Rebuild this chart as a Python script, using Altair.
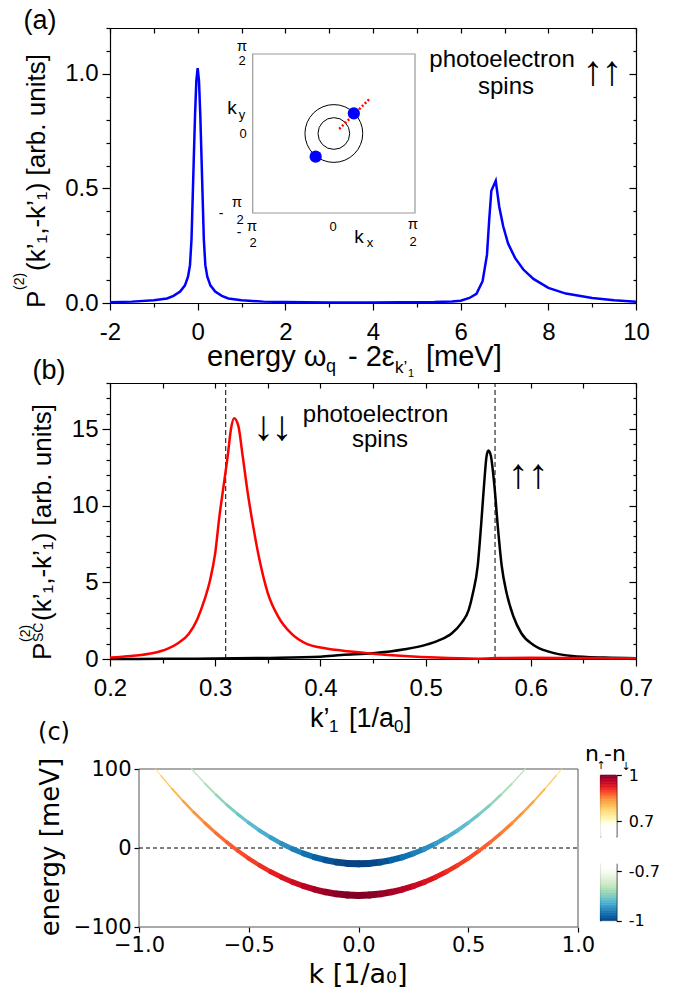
import altair as alt
import pandas as pd

W, H = 677, 992
HALF_PI = 1.5707963267948966
SANS = "Liberation Sans"
DV = "DejaVu Sans"

# ---------------- panel (a): photoelectron pair spectrum ----------------
a_energy = [-2.0, -1.5, -1.0, -0.7, -0.55, -0.4, -0.29, -0.22, -0.175, -0.14,
            -0.115, -0.09, -0.06, -0.03, 0.0, 0.03, 0.06, 0.09, 0.115, 0.14,
            0.175, 0.22, 0.29, 0.4, 0.55, 0.7, 1.0, 1.5, 2.0, 3.0, 4.0, 4.6,
            5.4, 5.8, 6.0, 6.2, 6.36, 6.5, 6.6, 6.65, 6.7, 6.8, 6.88, 6.97,
            7.08, 7.24, 7.43, 7.66, 8.0, 8.4, 9.0, 9.5, 10.0]
a_power = [0.003, 0.006, 0.012, 0.02, 0.031, 0.05, 0.077, 0.115, 0.165, 0.28,
           0.45, 0.62, 0.82, 0.97, 1.025, 0.97, 0.82, 0.62, 0.45, 0.28,
           0.165, 0.115, 0.077, 0.05, 0.031, 0.02, 0.012, 0.006, 0.004, 0.002, 0.002, 0.003,
           0.004, 0.007, 0.01, 0.022, 0.04, 0.095, 0.21, 0.36, 0.49, 0.533, 0.42, 0.335,
           0.26, 0.197, 0.146, 0.105, 0.066, 0.041, 0.022, 0.012, 0.005]

# inset (k-space sketch)
inset_ring_r = [0.31, 0.565]
inset_dot_kx = [0.387, -0.352]
inset_dot_ky = [0.399, -0.458]
inset_line_kx = [0.104, 0.685]
inset_line_ky = [0.089, 0.677]

# ---------------- panel (b) ----------------
b_k_red = [0.20, 0.22, 0.24, 0.255, 0.265, 0.275, 0.283, 0.29, 0.295, 0.30,
           0.304, 0.308, 0.312, 0.315, 0.318, 0.322, 0.326, 0.331, 0.336, 0.342,
           0.35, 0.36, 0.372, 0.388, 0.40, 0.42, 0.45, 0.48, 0.51, 0.55,
           0.57, 0.60, 0.65, 0.70]
b_p_red = [0.09, 0.2, 0.37, 0.68, 1.05, 1.65, 2.6, 3.9, 5.1, 6.9,
           9.3, 11.3, 13.3, 15.0, 15.7, 15.2, 13.3, 10.8, 8.7, 6.5,
           4.3, 2.75, 1.68, 0.95, 0.75, 0.55, 0.35, 0.2, 0.09, 0.02,
           0.06, 0.08, 0.06, 0.05]
b_k_black = [0.20, 0.25, 0.30, 0.35, 0.40, 0.42, 0.45, 0.48, 0.50, 0.512,
             0.525, 0.534, 0.541, 0.545, 0.5495, 0.5527, 0.5555, 0.558, 0.5597, 0.562,
             0.5654, 0.5686, 0.5724, 0.577, 0.5835, 0.591, 0.6025, 0.617, 0.639, 0.67, 0.70]
b_p_black = [0.0, 0.01, 0.03, 0.07, 0.15, 0.26, 0.37, 0.63, 0.92, 1.2,
             1.68, 2.34, 3.2, 4.3, 6.05, 8.67, 11.3, 13.25, 13.6, 13.25,
             11.3, 8.67, 6.05, 4.3, 2.77, 1.68, 0.92, 0.48, 0.2, 0.09, 0.05]
b_dash_k = [0.31, 0.566]

# ---------------- panel (c): spin-split bands ----------------
low_k = [-0.925, -0.9, -0.85, -0.8, -0.75, -0.7, -0.65, -0.6, -0.55, -0.5, -0.45, -0.4, -0.35,
         -0.3, -0.25, -0.2, -0.15, -0.1, -0.05, 0.0, 0.05, 0.1, 0.15, 0.2, 0.25, 0.3, 0.35,
         0.4, 0.45, 0.5, 0.55, 0.6, 0.65, 0.7, 0.75, 0.8, 0.85, 0.9, 0.925]
low_E = [100.0, 91.5, 75.1, 59.7, 45.2, 31.6, 19.0, 7.3, -3.4, -13.3, -22.1, -30.1, -37.1,
         -43.2, -48.3, -52.5, -55.8, -58.1, -59.5, -60.0, -59.5, -58.1, -55.8, -52.5, -48.3, -43.2, -37.1,
         -30.1, -22.1, -13.3, -3.4, 7.3, 19.0, 31.6, 45.2, 59.7, 75.1, 91.5, 100.0]
low_n = [0.77, 0.78, 0.8, 0.82, 0.84, 0.85, 0.865, 0.875, 0.885, 0.895, 0.905, 0.915, 0.93,
         0.94, 0.955, 0.97, 0.98, 0.99, 0.998, 1.0, 0.998, 0.99, 0.98, 0.97, 0.955, 0.94, 0.93,
         0.915, 0.905, 0.895, 0.885, 0.875, 0.865, 0.85, 0.84, 0.82, 0.8, 0.78, 0.77]
up_k = [-0.76, -0.7, -0.65, -0.6, -0.55, -0.5, -0.45, -0.4, -0.35, -0.3, -0.25, -0.2, -0.15,
        -0.1, -0.05, 0.0, 0.05, 0.1, 0.15, 0.2, 0.25, 0.3, 0.35, 0.4, 0.45, 0.5, 0.55, 0.6,
        0.65, 0.7, 0.76]
up_E = [99.9, 81.7, 67.7, 54.7, 42.8, 31.9, 22.0, 13.2, 5.4, -1.3, -7.0, -11.7, -15.3,
        -17.9, -19.5, -20.0, -19.5, -17.9, -15.3, -11.7, -7.0, -1.3, 5.4, 13.2, 22.0, 31.9, 42.8, 54.7,
        67.7, 81.7, 99.9]
up_n = [-0.78, -0.8, -0.82, -0.84, -0.855, -0.87, -0.885, -0.9, -0.915, -0.93, -0.945, -0.96, -0.975,
        -0.99, -0.997, -1.0, -0.997, -0.99, -0.975, -0.96, -0.945, -0.93, -0.915, -0.9, -0.885, -0.87,
        -0.855, -0.84, -0.82, -0.8, -0.78]
cb_up_edges = [0.60, 0.61, 0.62, 0.63, 0.64, 0.65, 0.66, 0.67, 0.68, 0.69, 0.70, 0.71, 0.72, 0.73,
               0.74, 0.75, 0.76, 0.77, 0.78, 0.79, 0.80, 0.81, 0.82, 0.83, 0.84, 0.85, 0.86, 0.87,
               0.88, 0.89, 0.90, 0.91, 0.92, 0.93, 0.94, 0.95, 0.96, 0.97, 0.98, 0.99, 1.00]
cb_lo_edges = [-1.00, -0.99, -0.98, -0.97, -0.96, -0.95, -0.94, -0.93, -0.92, -0.91, -0.90, -0.89,
               -0.88, -0.87, -0.86, -0.85, -0.84, -0.83, -0.82, -0.81, -0.80, -0.79, -0.78, -0.77,
               -0.76, -0.75, -0.74, -0.73, -0.72, -0.71, -0.70, -0.69, -0.68, -0.67, -0.66, -0.65]

# ---------------- tick values ----------------
a_x_major = [-2, 0, 2, 4, 6, 8, 10]
a_x_minor = [-1, 1, 3, 5, 7, 9]
a_x_all = [-2, -1, 0, 1, 2, 3, 4, 5, 6, 7, 8, 9, 10]
a_y_major = [0.0, 0.5, 1.0]
a_y_minor = [0.1, 0.2, 0.3, 0.4, 0.6, 0.7, 0.8, 0.9, 1.1, 1.2]
b_x_major = [0.2, 0.3, 0.4, 0.5, 0.6, 0.7]
b_x_minor = [0.25, 0.35, 0.45, 0.55, 0.65]
b_x_all = [0.2, 0.25, 0.3, 0.35, 0.4, 0.45, 0.5, 0.55, 0.6, 0.65, 0.7]
b_y_major = [0, 5, 10, 15]
b_y_minor = [1, 2, 3, 4, 6, 7, 8, 9, 11, 12, 13, 14, 16, 17, 18]
c_x_ticks = [-1.0, -0.5, 0.0, 0.5, 1.0]
c_y_ticks = [-100, 0, 100]
cb_up_ticks = [0.7, 1.0]
cb_lo_ticks = [-1.0, -0.7]

CDOM = [-1.0, -0.9625, -0.925, -0.8875, -0.85, -0.8125, -0.775, -0.7375, -0.7, -0.68,
        0.68, 0.7, 0.7375, 0.775, 0.8125, 0.85, 0.8875, 0.925, 0.9625, 1.0]
CRANGE = ["#084081", "#0868ac", "#2b8cbe", "#4eb3d3", "#7bccc4", "#a8ddb5", "#ccebc5", "#e0f3db",
          "#f7fcf0", "#ffffff", "#ffffff", "#ffffcc", "#ffeda0", "#fed976", "#feb24c", "#fd8d3c",
          "#fc4e2a", "#e31a1c", "#bd0026", "#800026"]


def cscale():
    return alt.Scale(domain=CDOM, range=CRANGE, interpolate="rgb")


def axis(orient, pos, values, tick, labels=False, domain=False, expr=None, fmt=None,
         font=SANS, size=24, pad=4, ticks=True):
    if orient == "bottom":
        off = pos - H
    elif orient in ("top", "left"):
        off = -pos
    else:
        off = pos - W
    kw = dict(orient=orient, offset=off, values=values, ticks=ticks, tickSize=tick,
              tickColor="black", tickWidth=1.2, labels=labels, domain=domain,
              domainColor="black", domainWidth=1.2, grid=False, title=None)
    if labels:
        kw.update(labelFont=font, labelFontSize=size, labelColor="black", labelPadding=pad,
                  labelFlush=False, labelOverlap=False)
        if expr:
            kw["labelExpr"] = expr
        if fmt:
            kw["format"] = fmt
    return alt.Axis(**kw)


def guide(xs, ys, xdom, ydom, xaxis=None, yaxis=None):
    df = pd.DataFrame({"gx": xdom, "gy": ydom})
    return alt.Chart(df).mark_point(opacity=0).encode(
        x=alt.X("gx:Q", scale=xs, axis=xaxis),
        y=alt.Y("gy:Q", scale=ys, axis=yaxis))


def text(s, x, y, size, font=SANS, align="center", baseline="middle", angle=0):
    return alt.Chart(pd.DataFrame({"t": [s]})).mark_text(
        align=align, baseline=baseline, fontSize=size, font=font, angle=angle, color="black"
    ).encode(x=alt.value(x), y=alt.value(y), text="t:N")


layers = []

# ======== panel (a) ========
xa = alt.Scale(domain=[-2, 10], range=[110, 636], nice=False, zero=False)
ya = alt.Scale(domain=[0, 1.2], range=[303, 28], nice=False, zero=False)
layers += [
    guide(xa, ya, [-2, 10], [0, 1.2],
          axis("bottom", 303, a_x_minor, 4), axis("left", 110, a_y_minor, 4)),
    guide(xa, ya, [-2, 10], [0, 1.2],
          axis("bottom", 28, a_x_all, 5, domain=True), axis("left", 636, a_y_minor, 3, domain=True)),
    guide(xa, ya, [-2, 10], [0, 1.2], None, axis("left", 636, a_y_major, 7)),
]
a_df = pd.DataFrame({"e": a_energy, "p": a_power})
layers.append(alt.Chart(a_df).mark_line(color="#0000ff", strokeWidth=2.5).encode(
    x=alt.X("e:Q", scale=xa, axis=axis("bottom", 303, a_x_major, 7, labels=True, domain=True,
                                         expr="datum.value + ''", pad=10)),
    y=alt.Y("p:Q", scale=ya, axis=axis("left", 110, a_y_major, 8, labels=True, domain=True,
                                         expr="format(datum.value, '.1f')", pad=4))))

# inset
xi = alt.Scale(domain=[-HALF_PI, HALF_PI], range=[252.7, 415], nice=False, zero=False)
yi = alt.Scale(domain=[-HALF_PI, HALF_PI], range=[213, 54], nice=False, zero=False)
frame_i = pd.DataFrame({"x": [-HALF_PI], "x2": [HALF_PI], "y": [-HALF_PI], "y2": [HALF_PI]})
layers.append(alt.Chart(frame_i).mark_rect(fillOpacity=0, stroke="#999999", strokeWidth=1.2).encode(
    x=alt.X("x:Q", scale=xi, axis=None), x2="x2:Q",
    y=alt.Y("y:Q", scale=yi, axis=None), y2="y2:Q"))
ring_df = pd.DataFrame({"cx": [0.0, 0.0], "cy": [0.0, 0.0], "r": inset_ring_r})
# symbol size = (diameter in px)^2 ; diameter = 160.6 px per (pi/2) of radius
layers.append(alt.Chart(ring_df).mark_point(shape="circle", filled=False, color="black",
                                            strokeWidth=1, opacity=1).encode(
    x=alt.X("cx:Q", scale=xi, axis=None),
    y=alt.Y("cy:Q", scale=yi, axis=None),
    size=alt.Size("r:Q", scale=alt.Scale(type="pow", exponent=2, domain=[0, HALF_PI],
                                         range=[0, 25800], zero=True), legend=None)))
line_df = pd.DataFrame({"kx": inset_line_kx, "ky": inset_line_ky})
layers.append(alt.Chart(line_df).mark_line(color="#ff0000", strokeWidth=2.5, strokeDash=[2, 2]).encode(
    x=alt.X("kx:Q", scale=xi, axis=None), y=alt.Y("ky:Q", scale=yi, axis=None)))
dot_df = pd.DataFrame({"kx": inset_dot_kx, "ky": inset_dot_ky})
layers.append(alt.Chart(dot_df).mark_circle(color="#0000ff", size=150, opacity=1).encode(
    x=alt.X("kx:Q", scale=xi, axis=None), y=alt.Y("ky:Q", scale=yi, axis=None)))
for s, x, y, fs in [("π", 242, 46, 15), ("2", 242, 61, 13), ("0", 243, 134, 13),
                    ("-", 221, 214, 14), ("π", 237, 202, 15), ("2", 240, 220, 13),
                    ("-", 239, 233, 14), ("π", 252, 226, 15), ("2", 253, 243, 13),
                    ("0", 333, 227, 13), ("π", 413, 224, 15), ("2", 413, 242, 13),
                    ("k", 232, 108, 19), ("y", 242, 115, 13), ("k", 359, 237, 19), ("x", 370, 243, 13)]:
    layers.append(text(s, x, y, fs))

# annotations (a)
layers += [
    text("(a)", 40, 21, 27),
    text("photoelectron", 502, 67, 24, baseline="alphabetic"),
    text("spins", 506, 94, 24, baseline="alphabetic"),
    text("↑", 592.7, 72, 42), text("↑", 611.7, 72, 42),
    text("P", 45, 308, 26, align="left", baseline="alphabetic", angle=270),
    text("(2)", 24, 290, 14, align="left", baseline="alphabetic", angle=270),
    text("(k’₁,-k’₁) [arb. units]", 45, 271, 26, align="left", baseline="alphabetic", angle=270),
    text("energy ω", 207, 366, 29, align="left", baseline="alphabetic"),
    text("q", 326, 372, 18, align="left", baseline="alphabetic"),
    text("- 2ε", 348, 366, 29, align="left", baseline="alphabetic"),
    text("k’", 395, 373, 17, align="left", baseline="alphabetic"),
    text("1", 408, 377, 11, align="left", baseline="alphabetic"),
    text("[meV]", 426, 366, 29, align="left", baseline="alphabetic"),
]

# ======== panel (b) ========
xb = alt.Scale(domain=[0.2, 0.7], range=[110, 636], nice=False, zero=False)
yb = alt.Scale(domain=[0, 18], range=[659, 383], nice=False, zero=False)
layers += [
    guide(xb, yb, [0.2, 0.7], [0, 18],
          axis("bottom", 659, b_x_minor, 4), axis("left", 110, b_y_minor, 4)),
    guide(xb, yb, [0.2, 0.7], [0, 18],
          axis("bottom", 383, b_x_all, 5, domain=True), axis("left", 636, b_y_minor, 3, domain=True)),
    guide(xb, yb, [0.2, 0.7], [0, 18], None, axis("left", 636, b_y_major, 7)),
]
dash_df = pd.DataFrame({"k": b_dash_k})
layers.append(alt.Chart(dash_df).mark_rule(color="black", strokeWidth=1, strokeDash=[5, 3]).encode(
    x=alt.X("k:Q", scale=xb, axis=None),
    y=alt.Y(datum=0, scale=yb, axis=None), y2=alt.Y2(datum=18)))
black_df = pd.DataFrame({"k": b_k_black, "p": b_p_black})
layers.append(alt.Chart(black_df).mark_line(color="black", strokeWidth=2.5, interpolate="monotone").encode(
    x=alt.X("k:Q", scale=xb, axis=axis("bottom", 659, b_x_major, 7, labels=True, domain=True,
                                         expr="format(datum.value, '.1f')", pad=10)),
    y=alt.Y("p:Q", scale=yb, axis=axis("left", 110, b_y_major, 8, labels=True, domain=True,
                                         expr="datum.value + ''", pad=4))))
red_df = pd.DataFrame({"k": b_k_red, "p": b_p_red})
layers.append(alt.Chart(red_df).mark_line(color="#ff0000", strokeWidth=2.5, interpolate="monotone").encode(
    x=alt.X("k:Q", scale=xb, axis=None), y=alt.Y("p:Q", scale=yb, axis=None)))
layers += [
    text("(b)", 49, 371, 27),
    text("photoelectron", 375.5, 422, 24, baseline="alphabetic"),
    text("spins", 380, 447, 24, baseline="alphabetic"),
    text("↓", 263.3, 427, 42), text("↓", 281.7, 427, 42),
    text("↑", 518, 475, 42), text("↑", 538, 475, 42),
    text("P", 51, 660, 26, align="left", baseline="alphabetic", angle=270),
    text("(2)", 30, 642, 14, align="left", baseline="alphabetic", angle=270),
    text("SC", 43, 642, 14, align="left", baseline="alphabetic", angle=270),
    text("(k’₁,-k’₁) [arb. units]", 51, 621, 26, align="left", baseline="alphabetic", angle=270),
    text("k’", 310, 727, 27, align="left", baseline="alphabetic"),
    text("1", 329, 732, 17, align="left", baseline="alphabetic"),
    text("[1/a", 349, 727, 27, align="left", baseline="alphabetic"),
    text("0", 394, 732, 17, align="left", baseline="alphabetic"),
    text("]", 404, 727, 27, align="left", baseline="alphabetic"),
]

# ======== panel (c) ========
xc = alt.Scale(domain=[-1, 1], range=[139, 578], nice=False, zero=False)
yc = alt.Scale(domain=[-100, 100], range=[927, 769], nice=False, zero=False)
frame_c = pd.DataFrame({"x": [-1.0], "x2": [1.0], "y": [-100.0], "y2": [100.0]})
layers.append(alt.Chart(frame_c).mark_rect(fillOpacity=0, stroke="#555555", strokeWidth=1).encode(
    x=alt.X("x:Q", scale=xc, axis=axis("bottom", 927, c_x_ticks, 5, labels=True, fmt=".1f",
                                        font=DV, size=21, pad=2)),
    x2="x2:Q",
    y=alt.Y("y:Q", scale=yc, axis=axis("left", 139, c_y_ticks, 5, labels=True, fmt="d",
                                        font=DV, size=21, pad=3)),
    y2="y2:Q"))
zero_df = pd.DataFrame({"k": [-1.0], "k2": [1.0], "e": [0.0]})
layers.append(alt.Chart(zero_df).mark_rule(color="black", strokeWidth=1, strokeDash=[4, 3]).encode(
    x=alt.X("k:Q", scale=xc, axis=None), x2="k2:Q", y=alt.Y("e:Q", scale=yc, axis=None)))


def segments(k, e, n):
    rows = []
    for i in range(len(k) - 1):
        rows.append({"k": k[i], "k2": k[i + 1], "e": e[i], "e2": e[i + 1], "n": (n[i] + n[i + 1]) / 2})
    return pd.DataFrame(rows)


wscale = alt.Scale(domain=[0.75, 1.0], range=[0.3, 7], clamp=True)
for seg in (segments(up_k, up_E, up_n), segments(low_k, low_E, low_n)):
    layers.append(alt.Chart(seg).transform_calculate(absn="abs(datum.n)").mark_rule(strokeCap="round").encode(
        x=alt.X("k:Q", scale=xc, axis=None), x2="k2:Q",
        y=alt.Y("e:Q", scale=yc, axis=None), y2="e2:Q",
        color=alt.Color("n:Q", scale=cscale(), legend=None),
        strokeWidth=alt.StrokeWidth("absn:Q", scale=wscale, legend=None)))


def bands(edges):
    return pd.DataFrame({"v": edges[:-1], "v2": edges[1:],
                         "n": [(a + b) / 2 for a, b in zip(edges[:-1], edges[1:])]})


cb_up_scale = alt.Scale(domain=[0.6, 1.0], range=[836.7, 775], nice=False, zero=False)
cb_lo_scale = alt.Scale(domain=[-1.0, -0.65], range=[920.7, 863.3], nice=False, zero=False)
for edges, sc, ticks, dom in ((cb_up_edges, cb_up_scale, cb_up_ticks, [0.6, 1.0]),
                               (cb_lo_edges, cb_lo_scale, cb_lo_ticks, [-1.0, -0.65])):
    layers.append(alt.Chart(bands(edges)).mark_rect(strokeWidth=0.6).encode(
        x=alt.value(600.3), x2=alt.value(616.3),
        y=alt.Y("v:Q", scale=sc, axis=axis("right", 616.3, ticks, 5, labels=True, domain=True,
                                            expr="datum.value + ''", font=DV, size=16, pad=7)),
        y2="v2:Q",
        color=alt.Color("n:Q", scale=cscale(), legend=None),
        stroke=alt.Stroke("n:Q", scale=cscale(), legend=None)))
    layers.append(guide(xc, sc, [-1, 1], dom, None, axis("left", 600.3, [], 0, domain=True, ticks=False)))

layers += [
    text("(c)", 54, 733, 24, font=DV),
    text("energy [meV]", 51, 847, 26, font=DV, angle=270),
    text("k [1/a₀]", 358, 975, 27, font=DV),
    text("n", 585, 761, 22, font=DV, align="left", baseline="alphabetic"),
    text("↑", 601, 766, 11, font=DV),
    text("-n", 604, 761, 22, font=DV, align="left", baseline="alphabetic"),
    text("↓", 626, 767, 11, font=DV),
]

chart = alt.layer(*layers).resolve_scale(x="independent", y="independent").properties(
    width=W, height=H, padding=0, autosize=alt.AutoSizeParams(type="none"), background="white"
).configure_view(strokeWidth=0)

chart.save("out.html", embed_options={"renderer": "svg", "actions": False})
